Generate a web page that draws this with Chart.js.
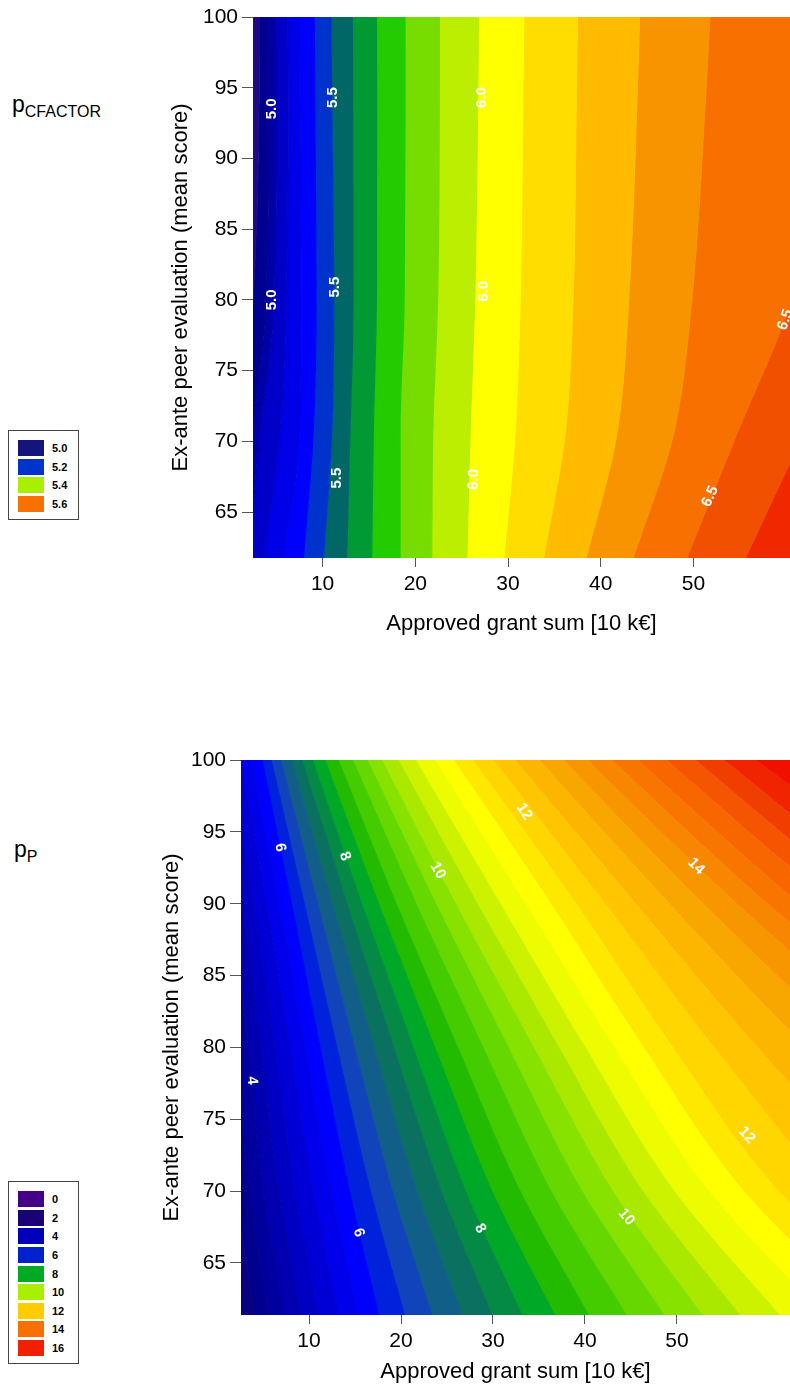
<!DOCTYPE html>
<html>
<head>
<meta charset="utf-8">
<script src="https://cdn.jsdelivr.net/npm/chart.js@4.4.0/dist/chart.umd.min.js"></script>
<style>
  body { margin: 0; background: #fff; width: 790px; height: 1395px; position: relative; overflow: hidden;
         font-family: "Liberation Sans", Arial, sans-serif; }
  canvas { position: absolute; left: 0; }
  #c1 { top: 0; }
  #c2 { top: 740px; }
  .ptitle { position: absolute; font-size: 23px; color: #000; }
  .ptitle sub { font-size: 16px; vertical-align: -5px; }
  .legend { position: absolute; left: 8px; width: 71px; border: 1px solid #444; background: #fff; box-sizing: border-box; padding: 8px 0 6px 9px; }
  .legend div { height: 18.6px; display: flex; align-items: center; font-size: 11px; font-weight: bold; color: #000; }
  .legend span { display: inline-block; width: 26px; height: 16px; margin-right: 8px; }
</style>
</head>
<body>
<div class="ptitle" style="left:12px;top:91px;">p<sub>CFACTOR</sub></div>
<div class="ptitle" style="left:14px;top:836px;">p<sub>P</sub></div>
<div class="legend" id="leg1" style="top:430px;"></div>
<div class="legend" id="leg2" style="top:1181px;"></div>
<canvas id="c1" width="790" height="640"></canvas>
<canvas id="c2" width="790" height="655"></canvas>
<script>
// ---------- panel 1 : p_CFACTOR ----------
const yRows1 = [61.5, 70.56, 80, 94.1, 100.5];
const levels1 = [4.9, 5.0, 5.1, 5.2, 5.3, 5.4, 5.5, 5.6, 5.7, 5.8, 5.9, 6.0, 6.1, 6.2, 6.3, 6.4, 6.5, 6.6];
// x position of each contour line at yRows1
const contourX1 = [
  [-1.0, 1.2, 2.5, 3.16, 3.2],
  [0.6, 2.4, 3.9, 4.2, 4.2],
  [2.0, 3.24, 4.8, 5.04, 5.0],
  [3.6, 5.4, 6.1, 6.29, 6.25],
  [5.75, 7.56, 7.7, 7.56, 7.5],
  [7.91, 8.99, 9.3, 9.17, 9.1],
  [10.07, 10.98, 11.2, 10.98, 10.9],
  [12.59, 12.95, 13.3, 13.24, 13.2],
  [15.29, 15.47, 15.8, 15.83, 15.8],
  [18.35, 18.35, 18.8, 18.89, 18.9],
  [21.77, 21.88, 22.4, 22.59, 22.6],
  [25.55, 25.9, 26.4, 26.73, 26.8],
  [29.5, 30.76, 31.3, 31.59, 31.7],
  [33.75, 36.16, 37.0, 37.35, 37.5],
  [38.32, 41.74, 43.0, 43.9, 44.2],
  [43.35, 47.85, 49.8, 51.27, 51.8],
  [49.11, 54.69, 60.6, 66.0, 68.0],
  [55.4, 62.0, 70.0, 78.0, 81.0]
];
const bandColors1 = ['#200a80', '#000090', '#0000a8', '#0000c8', '#0000e8', '#0000ff', '#0033cc', '#006666',
  '#009933', '#22cc00', '#77dd00', '#bbee00', '#ffff00', '#ffdd00', '#ffbb00', '#f89400', '#f87000', '#f05000', '#f02800'];
const labels1 = [
  {text: '5.0', x: 4.5, y: 93.5, angle: -90}, {text: '5.0', x: 4.5, y: 80.0, angle: -90},
  {text: '5.5', x: 11.1, y: 94.3, angle: -90}, {text: '5.5', x: 11.3, y: 80.9, angle: -90}, {text: '5.5', x: 11.5, y: 67.4, angle: -90},
  {text: '6.0', x: 27.2, y: 94.3, angle: -90}, {text: '6.0', x: 27.4, y: 80.6, angle: -90}, {text: '6.0', x: 26.3, y: 67.3, angle: -88},
  {text: '6.5', x: 51.8, y: 66.1, angle: -65}, {text: '6.5', x: 59.9, y: 78.6, angle: -70}
];
const legendText1 = ['5.0', '5.2', '5.4', '5.6'];
const legendColors1 = ['#14147e', '#0033cc', '#aaee00', '#f87000'];

// ---------- panel 2 : p_P ----------
const yRows2 = [61.3, 70, 80, 90, 100.5];
const levels2 = [2.8, 3.2, 3.6, 4.0, 4.4, 4.8, 5.2, 5.6, 6.0, 6.4, 6.8, 7.2, 7.6, 8.0, 8.4, 8.8, 9.2, 9.6,
  10.0, 10.4, 10.8, 11.2, 11.6, 12.0, 12.4, 12.8, 13.2, 13.6, 14.0, 14.4, 14.8, 15.2, 15.6, 16.0, 16.4];
const contourX2 = [
  [2.66, 0.77, -0.11, -1.33, -3.3],
  [4.11, 2.09, 0.98, -0.42, -2.52],
  [5.65, 3.5, 2.15, 0.56, -1.69],
  [7.3, 5.0, 3.4, 1.6, -0.8],
  [9.15, 6.69, 4.8, 2.77, 0.2],
  [11.11, 8.48, 6.29, 4.01, 1.25],
  [13.27, 10.45, 7.92, 5.37, 2.42],
  [15.44, 12.43, 9.56, 6.74, 3.58],
  [17.6, 14.4, 11.2, 8.1, 4.75],
  [20.41, 16.67, 13.02, 9.47, 5.71],
  [23.37, 19.06, 14.94, 10.91, 6.73],
  [26.65, 21.71, 17.06, 12.51, 7.85],
  [29.92, 24.35, 19.18, 14.1, 8.98],
  [33.2, 27.0, 21.3, 15.7, 10.1],
  [36.73, 29.88, 23.66, 17.54, 11.43],
  [40.45, 32.92, 26.15, 19.47, 12.84],
  [44.57, 36.28, 28.9, 21.62, 14.39],
  [48.68, 39.64, 31.65, 23.76, 15.95],
  [52.8, 43.0, 34.4, 25.9, 17.5],
  [56.89, 46.24, 37.12, 28.26, 19.25],
  [61.2, 49.66, 39.99, 30.75, 21.09],
  [65.97, 53.44, 43.16, 33.5, 23.13],
  [70.73, 57.22, 46.33, 36.25, 25.16],
  [75.5, 61.0, 49.5, 39.0, 27.2],
  [82.07, 67.03, 54.0, 42.15, 29.4],
  [89.0, 73.4, 58.75, 45.48, 31.71],
  [96.67, 80.43, 64.0, 49.15, 34.28],
  [104.3, 87.47, 69.25, 52.83, 36.84],
  [112.0, 94.5, 74.5, 56.5, 39.4],
  [118.8, 100.0, 79.09, 59.83, 42.05],
  [126.1, 105.8, 83.94, 63.35, 44.84],
  [134.0, 112.2, 89.29, 67.23, 47.93],
  [142.0, 118.6, 94.65, 71.12, 51.01],
  [150.0, 125.0, 100.0, 75.0, 54.1],
  [160.0, 133.0, 106.0, 80.0, 57.5]
];
const bandColors2 = ['#100070', '#080080', '#00008e', '#00009e', '#0000b0', '#0000c4', '#0000d6', '#0000ea',
  '#0000ff', '#0022dd', '#1144bb', '#115f88', '#0a7060', '#048a44', '#00a828', '#22bb00', '#44cc00', '#66d800',
  '#88e200', '#aae800', '#ccf200', '#eefc00', '#ffff00', '#ffe800', '#ffd600', '#ffc600', '#fcb600', '#f8a600',
  '#f89600', '#f88600', '#f87600', '#f86600', '#f55400', '#f03e00', '#f02400', '#f01000'];
const labels2 = [
  {text: '4', x: 3.8, y: 77.7, angle: 85},
  {text: '6', x: 6.85, y: 93.9, angle: 79}, {text: '6', x: 15.4, y: 67.1, angle: 72},
  {text: '8', x: 13.9, y: 93.3, angle: 68}, {text: '8', x: 28.6, y: 67.4, angle: 60},
  {text: '10', x: 24.0, y: 92.3, angle: 60}, {text: '10', x: 44.5, y: 68.2, angle: 50},
  {text: '12', x: 33.4, y: 96.4, angle: 57}, {text: '12', x: 57.6, y: 73.9, angle: 47},
  {text: '14', x: 52.1, y: 92.6, angle: 45}
];
const legendText2 = ['0', '2', '4', '6', '8', '10', '12', '14', '16'];
const legendColors2 = ['#440088', '#1a0077', '#0000bb', '#0022cc', '#00aa22', '#aaee00', '#ffcc00', '#f87000', '#f02000'];

const xTicks = [10, 20, 30, 40, 50];
const yTicks = [65, 70, 75, 80, 85, 90, 95, 100];

// one line per contour level; each fills back to the previous level
function contourDatasets(levels, yRows, xs, colors) {
  const line = i => yRows.map((y, j) => ({x: xs[i][j], y: y}));
  const sets = levels.map((lv, i) => ({
    label: String(lv),
    data: line(i),
    // 'start'/'end' use the wrong edge with indexAxis 'y', so fill to a far value instead
    fill: i === 0 ? {value: -500} : '-1',
    backgroundColor: colors[i],
    borderColor: colors[i],
    borderWidth: 1.2,
    pointRadius: 0,
    cubicInterpolationMode: 'monotone'
  }));
  const last = levels.length - 1;
  sets.push({
    label: '>' + levels[last],
    data: line(last),
    fill: {value: 500},
    backgroundColor: colors[levels.length],
    borderColor: colors[levels.length],
    borderWidth: 0,
    pointRadius: 0,
    cubicInterpolationMode: 'monotone'
  });
  return sets;
}

const contourLabels = {
  id: 'contourLabels',
  afterDatasetsDraw(chart, args, opts) {
    const {ctx, chartArea, scales} = chart;
    ctx.save();
    ctx.beginPath();
    ctx.rect(chartArea.left, chartArea.top, chartArea.width, chartArea.height);
    ctx.clip();
    ctx.fillStyle = '#ffffff';
    ctx.font = opts.font;
    ctx.textAlign = 'center';
    ctx.textBaseline = 'middle';
    opts.items.forEach(l => {
      ctx.save();
      ctx.translate(scales.x.getPixelForValue(l.x), scales.y.getPixelForValue(l.y));
      ctx.rotate(l.angle * Math.PI / 180);
      ctx.fillText(l.text, 0, 0);
      ctx.restore();
    });
    ctx.restore();
  }
};

function makeChart(id, cfg) {
  return new Chart(document.getElementById(id), {
    type: 'line',
    data: {datasets: contourDatasets(cfg.levels, cfg.yRows, cfg.xs, cfg.colors)},
    options: {
      indexAxis: 'y',
      responsive: false,
      animation: false,
      events: [],
      layout: {padding: cfg.padding},
      plugins: {
        legend: {display: false},
        tooltip: {enabled: false},
        contourLabels: {items: cfg.labels, font: cfg.labelFont}
      },
      scales: {
        x: {
          type: 'linear',
          min: cfg.xMin, max: cfg.xMax,
          afterBuildTicks: s => { s.ticks = xTicks.map(v => ({value: v})); },
          afterFit: s => { s.height = cfg.xAxisHeight; },
          grid: {display: true, drawOnChartArea: false, tickLength: 9, color: '#555'},
          border: {display: false},
          ticks: {color: '#000', font: {size: cfg.tickSize, family: '"Liberation Sans", Arial'}, padding: cfg.xTickPad, maxRotation: 0},
          title: {display: true, text: 'Approved grant sum [10 k€]', color: '#000',
                  font: {size: cfg.titleSize, family: '"Liberation Sans", Arial'}, padding: {top: 0, bottom: cfg.xTitlePad}}
        },
        y: {
          type: 'linear',
          min: cfg.yMin, max: 100,
          afterBuildTicks: s => { s.ticks = yTicks.map(v => ({value: v})); },
          afterFit: s => { s.width = cfg.yAxisWidth; },
          grid: {display: true, drawOnChartArea: false, tickLength: 11, color: '#555'},
          border: {display: false},
          ticks: {color: '#000', font: {size: cfg.tickSize, family: '"Liberation Sans", Arial'}, padding: 4},
          title: {display: true, text: 'Ex-ante peer evaluation (mean score)', color: '#000',
                  font: {size: cfg.titleSize, family: '"Liberation Sans", Arial'}, padding: {top: cfg.yTitlePad, bottom: 0}}
        }
      }
    },
    plugins: [contourLabels]
  });
}

function buildLegend(id, texts, colors) {
  const box = document.getElementById(id);
  texts.forEach((t, i) => {
    const row = document.createElement('div');
    const sw = document.createElement('span');
    sw.style.background = colors[i];
    row.appendChild(sw);
    row.appendChild(document.createTextNode(t));
    box.appendChild(row);
  });
}

makeChart('c1', {
  levels: levels1, yRows: yRows1, xs: contourX1, colors: bandColors1, labels: labels1,
  labelFont: 'bold 15px "Liberation Sans", Arial', xMin: 2.5, xMax: 60.4, yMin: 61.75,
  padding: {left: 165, top: 17, right: 0, bottom: 0},
  xAxisHeight: 82, yAxisWidth: 88, tickSize: 21, titleSize: 22, xTickPad: 5, xTitlePad: 3, yTitlePad: 3
});
makeChart('c2', {
  levels: levels2, yRows: yRows2, xs: contourX2, colors: bandColors2, labels: labels2,
  labelFont: 'bold 15px "Liberation Sans", Arial', xMin: 2.6, xMax: 62.3, yMin: 61.38,
  padding: {left: 157, top: 20, right: 0, bottom: 0},
  xAxisHeight: 80, yAxisWidth: 84, tickSize: 21, titleSize: 22, xTickPad: 5, xTitlePad: 10, yTitlePad: 2
});
buildLegend('leg1', legendText1, legendColors1);
buildLegend('leg2', legendText2, legendColors2);
</script>
</body>
</html>
